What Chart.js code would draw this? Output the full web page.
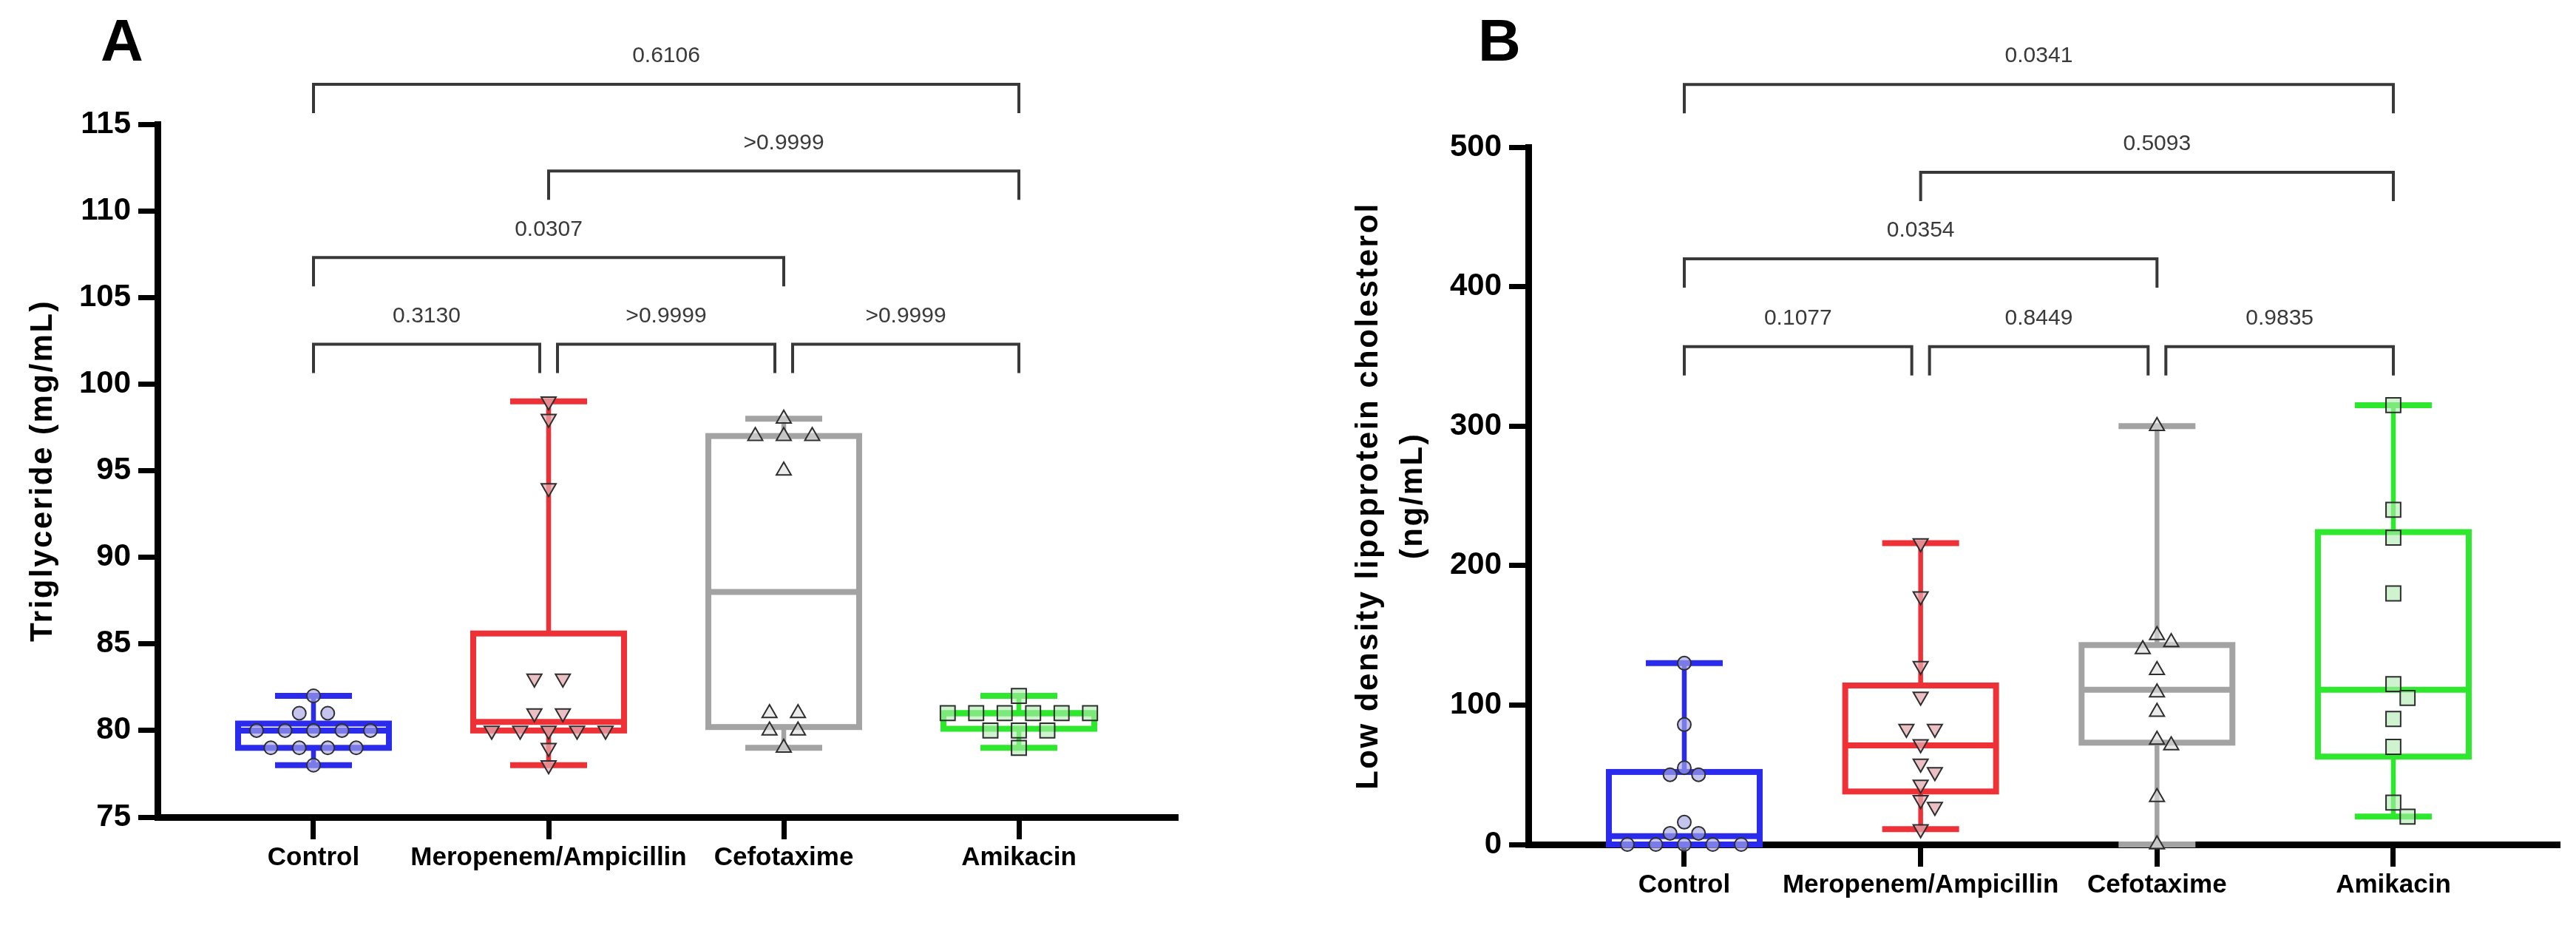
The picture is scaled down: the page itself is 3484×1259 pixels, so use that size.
<!DOCTYPE html>
<html>
<head>
<meta charset="utf-8">
<script src="https://cdn.jsdelivr.net/npm/chart.js@4.4.1/dist/chart.umd.min.js"></script>
<style>
  html, body { margin: 0; padding: 0; background: #fff; }
  #wrap { position: relative; width: 3484px; height: 1259px; }
  canvas { position: absolute; top: 0; }
  #chartA { left: 0; }
  #chartB { left: 1742px; }
</style>
</head>
<body>
<div id="wrap">
  <canvas id="chartA" width="1742" height="1259"></canvas>
  <canvas id="chartB" width="1742" height="1259"></canvas>
</div>
<script>
const categories = ["Control", "Meropenem/Ampicillin", "Cefotaxime", "Amikacin"];

// Panel A - triglyceride (mg/mL), one value per animal
const tgControl = [82, 81, 81, 80, 80, 80, 80, 80, 79, 79, 79, 79, 78];
const tgMero = [99, 98, 94, 83, 83, 81, 81, 80, 80, 80, 80, 80, 79, 78];
const tgCefo = [98, 97, 97, 97, 95, 81, 81, 80, 80, 79];
const tgAmik = [82, 81, 81, 81, 81, 81, 81, 80, 80, 80, 79];
// [min, q1, median, q3, max] per group
const tgBoxes = [
  [78, 79, 80, 80.4, 82],
  [78, 80, 80.5, 85.6, 99],
  [79, 80.2, 88, 97, 98],
  [79, 80.1, 81, 81, 82],
];
const tgTicks = [75, 80, 85, 90, 95, 100, 105, 110, 115];

// Panel B - LDL cholesterol (ng/mL)
const ldlControl = [130, 86, 55, 50, 50, 16, 8, 8, 0, 0, 0, 0, 0];
const ldlMero = [216, 178, 128, 106, 83, 83, 72, 58, 52, 43, 32, 27, 11];
const ldlCefo = [300, 150, 145, 140, 125, 109, 95, 75, 71, 34, 0];
const ldlAmik = [315, 240, 220, 180, 115, 105, 90, 70, 30, 20];
const ldlBoxes = [
  [0, 0, 6, 52, 130],
  [11, 38, 71, 114, 216],
  [0, 73, 111, 143, 300],
  [20, 63, 111, 224, 315],
];
const ldlTicks = [0, 100, 200, 300, 400, 500];

// multiple comparisons: group pairs, p values, bracket heights (data units)
const comparisons = [[0, 3], [1, 3], [0, 2], [0, 1], [1, 2], [2, 3]];
const tgPValues = ["0.6106", ">0.9999", "0.0307", "0.3130", ">0.9999", ">0.9999"];
const tgBracketY = [117.3, 112.3, 107.3, 102.3, 102.3, 102.3];
const ldlPValues = ["0.0341", "0.5093", "0.0354", "0.1077", "0.8449", "0.9835"];
const ldlBracketY = [545, 482, 420, 357, 357, 357];

const groupStyle = [
  { line: "#2b2bee", fill: "rgba(165,165,230,0.65)", point: "circle", rotation: 0, radius: 9 },
  { line: "#ee3136", fill: "rgba(228,170,175,0.75)", point: "triangle", rotation: 180, radius: 11.5 },
  { line: "#a3a3a3", fill: "rgba(222,222,222,0.6)", point: "triangle", rotation: 0, radius: 11.5 },
  { line: "#2de82d", fill: "rgba(175,235,175,0.6)", point: "rect", rotation: 0, radius: 14 },
];

const FONT = '"Liberation Sans", Arial, Helvetica, sans-serif';
Chart.defaults.font.family = FONT;
Chart.defaults.color = "#000";

// box and whiskers, drawn under the points
const boxPlugin = {
  id: "boxes",
  beforeDatasetsDraw(chart, args, opts) {
    const { ctx, scales: { x, y } } = chart;
    opts.stats.forEach(([mn, q1, med, q3, mx], i) => {
      const cx = x.getPixelForValue(i);
      const seg = (x1, y1, x2, y2) => {
        ctx.beginPath();
        ctx.moveTo(x1, y1);
        ctx.lineTo(x2, y2);
        ctx.stroke();
      };
      ctx.save();
      ctx.strokeStyle = groupStyle[i].line;
      ctx.lineCap = "butt";
      ctx.lineWidth = 6.5;
      seg(cx, y.getPixelForValue(mx), cx, y.getPixelForValue(q3));
      seg(cx, y.getPixelForValue(q1), cx, y.getPixelForValue(mn));
      ctx.lineWidth = 8;
      seg(cx - opts.capHalf, y.getPixelForValue(mx), cx + opts.capHalf, y.getPixelForValue(mx));
      seg(cx - opts.capHalf, y.getPixelForValue(mn), cx + opts.capHalf, y.getPixelForValue(mn));
      const top = y.getPixelForValue(q3);
      const bot = y.getPixelForValue(q1);
      ctx.strokeRect(cx - opts.boxHalf, top, opts.boxHalf * 2, bot - top);
      seg(cx - opts.boxHalf, y.getPixelForValue(med), cx + opts.boxHalf, y.getPixelForValue(med));
      ctx.restore();
    });
  },
};

// significance brackets, axis title (letter-spaced) and panel letter
const bracketPlugin = {
  id: "brackets",
  afterDraw(chart, args, opts) {
    const { ctx, chartArea, scales: { x, y } } = chart;
    ctx.save();
    ctx.strokeStyle = "#383838";
    ctx.lineWidth = 4;
    ctx.fillStyle = "#3a3a3a";
    ctx.font = "30px " + FONT;
    ctx.textAlign = "center";
    ctx.textBaseline = "middle";
    comparisons.forEach(([a, b], k) => {
      const level = opts.levels[k];
      const shared = (g) => comparisons.some(([c, d], j) => j !== k && opts.levels[j] === level && (c === g || d === g));
      let x1 = x.getPixelForValue(a);
      let x2 = x.getPixelForValue(b);
      if (shared(a)) x1 += 12;
      if (shared(b)) x2 -= 12;
      const yy = y.getPixelForValue(level);
      ctx.beginPath();
      ctx.moveTo(x1, yy + 39);
      ctx.lineTo(x1, yy);
      ctx.lineTo(x2, yy);
      ctx.lineTo(x2, yy + 39);
      ctx.stroke();
      ctx.fillText(opts.labels[k], (x1 + x2) / 2, yy - 38);
    });

    ctx.fillStyle = "#000";
    ctx.font = "bold 42px " + FONT;
    ctx.letterSpacing = "2.5px";
    const cy = (chartArea.top + chartArea.bottom) / 2;
    opts.title.forEach((line, k) => {
      ctx.save();
      ctx.translate(opts.titleX + k * 60, cy);
      ctx.rotate(-Math.PI / 2);
      ctx.fillText(line, 0, 0);
      ctx.restore();
    });
    ctx.letterSpacing = "0px";

    ctx.font = "bold 80px " + FONT;
    ctx.fillText(opts.letter, opts.letterX, opts.letterY);
    ctx.restore();
  },
};

// spread overlapping points sideways, Prism style
function swarm(pixY, diam, step) {
  const offsets = new Array(pixY.length);
  const placed = [];
  const rows = new Map();
  pixY.forEach((py, i) => {
    if (!rows.has(py)) rows.set(py, []);
    rows.get(py).push(i);
  });
  [...rows.values()].filter((r) => r.length > 1).forEach((r) => {
    r.forEach((idx, k) => {
      offsets[idx] = (k - (r.length - 1) / 2) * step;
      placed.push({ x: offsets[idx], y: pixY[idx] });
    });
  });
  pixY.forEach((py, i) => {
    if (offsets[i] !== undefined) return;
    for (let k = 0; k < 20; k++) {
      const cands = k === 0 ? [0] : [(k * step) / 2, (-k * step) / 2];
      const ok = cands.find((c) => placed.every((p) => Math.hypot(p.x - c, p.y - py) >= diam));
      if (ok !== undefined) {
        offsets[i] = ok;
        placed.push({ x: ok, y: py });
        return;
      }
    }
    offsets[i] = 0;
  });
  return offsets;
}

function makePanel(canvas, cfg) {
  const datasets = cfg.groups.map((vals, i) => ({
    data: vals.map((v) => ({ x: i, y: v })),
    pointStyle: groupStyle[i].point,
    pointRotation: groupStyle[i].rotation,
    pointRadius: groupStyle[i].radius,
    pointHoverRadius: groupStyle[i].radius,
    pointBackgroundColor: groupStyle[i].fill,
    pointBorderColor: "#2e2e2e",
    pointBorderWidth: 2,
    showLine: false,
    clip: false,
  }));

  const axisGrid = (len) => ({
    display: true,
    drawOnChartArea: false,
    drawTicks: true,
    tickLength: len,
    tickWidth: 7,
    tickColor: "#000",
  });

  const chart = new Chart(canvas, {
    type: "scatter",
    data: { datasets },
    options: {
      responsive: false,
      animation: false,
      layout: { padding: { top: cfg.padTop, right: cfg.padRight, left: 0, bottom: 0 } },
      plugins: {
        legend: { display: false },
        tooltip: { enabled: false },
        boxes: { stats: cfg.boxes, boxHalf: 102, capHalf: 52 },
        brackets: {
          levels: cfg.bracketY,
          labels: cfg.pValues,
          letter: cfg.letter,
          letterX: cfg.letterX,
          letterY: 60,
          title: cfg.yTitle,
          titleX: cfg.titleX,
        },
      },
      scales: {
        x: {
          type: "linear",
          min: cfg.xMin,
          max: cfg.xMax,
          afterBuildTicks: (s) => {
            s.ticks = categories.map((c, i) => ({ value: i }));
          },
          afterFit: (s) => {
            s.height = cfg.xAxisHeight;
          },
          grid: axisGrid(30),
          border: { display: true, width: 9, color: "#000" },
          ticks: {
            autoSkip: false,
            maxRotation: 0,
            padding: 4,
            color: "#000",
            font: { size: 35, weight: "bold" },
            callback: (v) => categories[v],
          },
        },
        y: {
          min: cfg.ticks[0],
          max: cfg.ticks[cfg.ticks.length - 1],
          afterBuildTicks: (s) => {
            s.ticks = cfg.ticks.map((v) => ({ value: v }));
          },
          afterFit: (s) => {
            s.width = cfg.yAxisWidth;
          },
          grid: axisGrid(26),
          border: { display: true, width: 9, color: "#000" },
          ticks: {
            padding: 10,
            color: "#000",
            font: { size: 42, weight: "bold" },
            callback: (v) => String(v),
          },
        },
      },
    },
    plugins: [boxPlugin, bracketPlugin],
  });

  const { x, y } = chart.scales;
  const pxPerGroup = x.getPixelForValue(1) - x.getPixelForValue(0);
  cfg.groups.forEach((vals, i) => {
    const offs = swarm(vals.map((v) => y.getPixelForValue(v)), 20, 38.5);
    chart.data.datasets[i].data = vals.map((v, k) => ({ x: i + offs[k] / pxPerGroup, y: v }));
  });
  chart.update("none");
  return chart;
}

makePanel(document.getElementById("chartA"), {
  groups: [tgControl, tgMero, tgCefo, tgAmik],
  boxes: tgBoxes,
  ticks: tgTicks,
  bracketY: tgBracketY,
  pValues: tgPValues,
  letter: "A",
  letterX: 165,
  yTitle: ["Triglyceride (mg/mL)"],
  titleX: 58,
  yAxisWidth: 213,
  xAxisHeight: 154,
  padTop: 168,
  padRight: 149,
  xMin: -0.6635,
  xMax: 3.676,
});

makePanel(document.getElementById("chartB"), {
  groups: [ldlControl, ldlMero, ldlCefo, ldlAmik],
  boxes: ldlBoxes,
  ticks: ldlTicks,
  bracketY: ldlBracketY,
  pValues: ldlPValues,
  letter: "B",
  letterX: 286,
  yTitle: ["Low density lipoprotein cholesterol", "(ng/mL)"],
  titleX: 109,
  yAxisWidth: 325,
  xAxisHeight: 117,
  padTop: 199,
  padRight: 22,
  xMin: -0.66,
  xMax: 3.704,
});
</script>
</body>
</html>
